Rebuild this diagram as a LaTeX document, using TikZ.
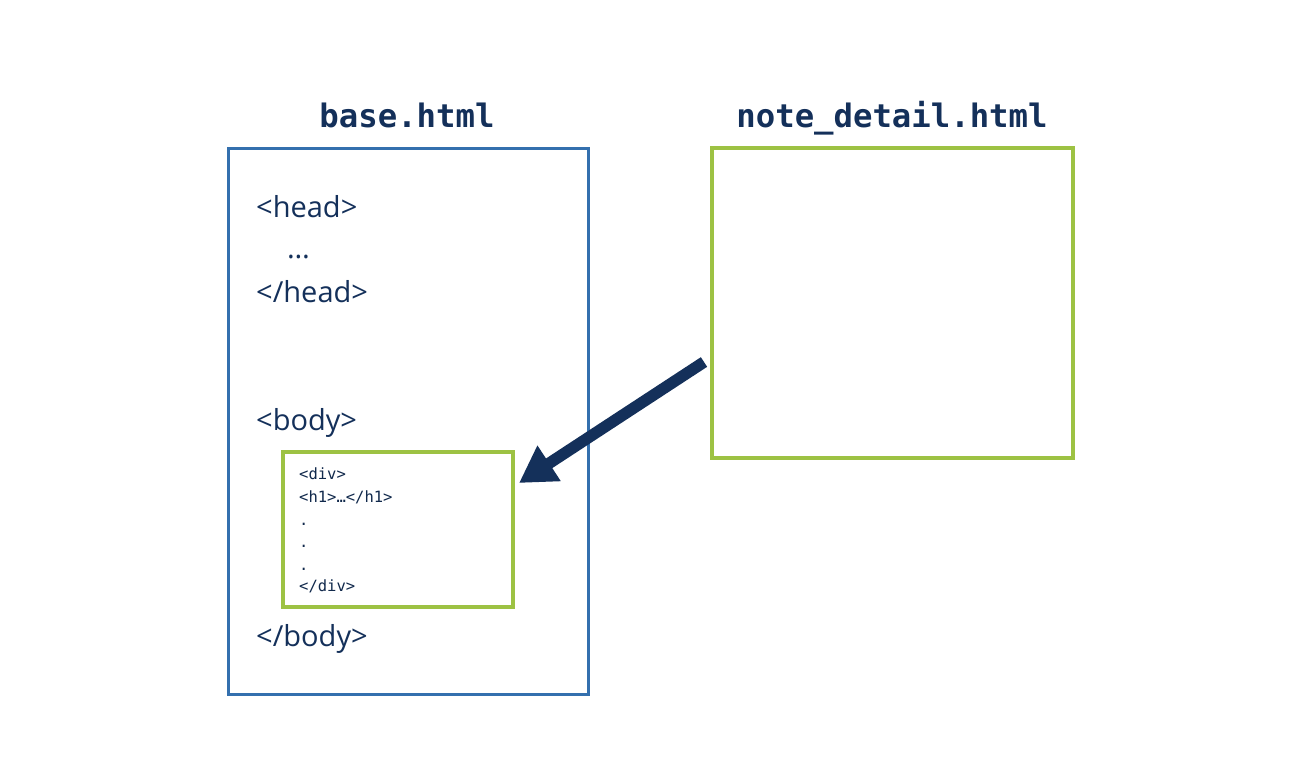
\documentclass[tikz,border=0pt]{standalone}
\usepackage{fontspec}
\setmainfont{Open Sans}
\newfontfamily\monob{DejaVu Sans Mono}
\usetikzlibrary{arrows.meta}
\definecolor{navy}{HTML}{14305A}
\definecolor{boxblue}{HTML}{3470AE}
\definecolor{boxgreen}{HTML}{9DC243}
\tikzset{
  title/.style={font=\monob\bfseries\fontsize{32.3}{36}\selectfont, text=navy, anchor=base, inner sep=0pt},
  codetxt/.style={font=\fontsize{29}{32}\selectfont, text=navy, anchor=base west, inner sep=0pt},
  smallcode/.style={font=\monob\fontsize{15.5}{18}\selectfont, text=navy!85!black, anchor=base west, inner sep=0pt},
  bluebox/.style={draw=boxblue, line width=3pt},
  greenbox/.style={draw=boxgreen, line width=3.2pt},
}
\begin{document}
\begin{tikzpicture}[x=1pt,y=-1pt]
\useasboundingbox[fill=white] (0,0) rectangle (1298,764);
% boxes
\draw[bluebox] (228,148) rectangle (588,694);
\node[inner sep=0pt] (base) at (408,421) {};
\draw[greenbox] (712,148) rectangle (1073,458);
\node[inner sep=0pt, minimum width=361pt, minimum height=310pt] (note) at (892.5,303) {};
\draw[greenbox] (283,452) rectangle (513,607);
\node[inner sep=0pt, minimum width=230pt, minimum height=155pt] (inner) at (398,529.5) {};
% titles
\node[title] (t1) at (407,127) {base.html};
\node[title] (t2) at (892,127) {note\_detail.html};
% base text
\node[codetxt] (h1) at (256,217) {<head>};
\node[codetxt] (h2) at (287,258) {…};
\node[codetxt] (h3) at (256,302) {</head>};
\node[codetxt] (b1) at (256,430) {<body>};
\node[codetxt] (b2) at (256,646) {</body>};
% inner text
\node[smallcode] (d1) at (299,479) {<div>};
\node[smallcode] (d2) at (299,502) {<h1>…</h1>};
\node[smallcode] (d3) at (299,525) {.};
\node[smallcode] (d4) at (299,547) {.};
\node[smallcode] (d5) at (299,570) {.};
\node[smallcode] (d6) at (299,591) {</div>};
% arrow
\coordinate (as) at (704,362);
\coordinate (ae) at (519,483);
\draw[navy, line width=11.5pt, -{Triangle[length=36pt,width=40pt]}] (as) -- (ae);
\end{tikzpicture}
\end{document}
